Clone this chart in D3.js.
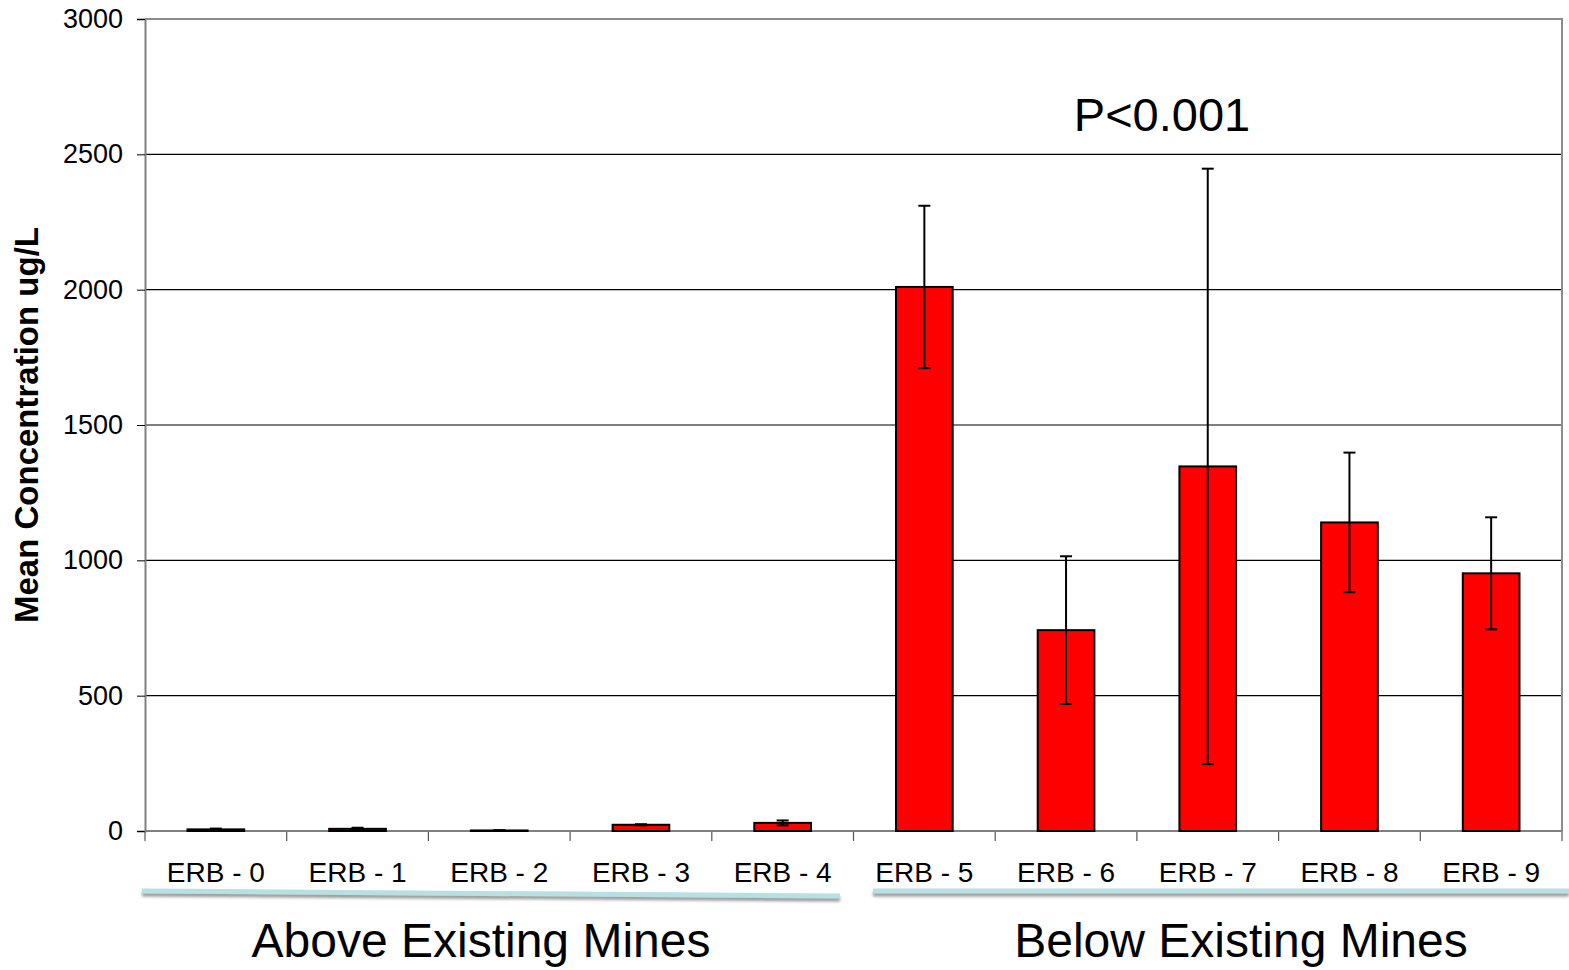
<!DOCTYPE html>
<html>
<head>
<meta charset="utf-8">
<script src="https://cdn.jsdelivr.net/npm/d3@7"></script>
<style>
  html, body { margin: 0; padding: 0; background: #fff; }
  svg { display: block; font-family: "Liberation Sans", Arial, sans-serif; }
</style>
</head>
<body>
<svg id="chart" width="1569" height="970"></svg>
<script>
// Sampling sites along the river
const sites = ["ERB - 0", "ERB - 1", "ERB - 2", "ERB - 3", "ERB - 4",
               "ERB - 5", "ERB - 6", "ERB - 7", "ERB - 8", "ERB - 9"];
// Mean concentration (ug/L) at each site
const meanConc = [6, 8, 2, 23, 30, 2010, 742, 1347, 1140, 952];
// Error bar half-widths (ug/L)
const errConc = [3, 4, 1, 2, 9, 300, 273, 1100, 258, 207];
const yTicks = [0, 500, 1000, 1500, 2000, 2500, 3000];
const groups = [
  { label: "Above Existing Mines", from: 0, to: 4 },
  { label: "Below Existing Mines", from: 5, to: 9 }
];
const pLabel = "P<0.001";

const svg = d3.select("#chart");
const m = { left: 145, right: 1562, top: 19, bottom: 831 };

const x = d3.scaleBand().domain(sites).range([m.left, m.right]).paddingInner(0.6).paddingOuter(0.3);
const xc = d3.scaleBand().domain(sites).range([m.left, m.right]).padding(0);
const y = d3.scaleLinear().domain([0, 3000]).range([m.bottom, m.top]);

// horizontal gridlines
svg.append("g").selectAll("line").data(yTicks.filter(t => t > 0 && t < 3000)).join("line")
  .attr("x1", m.left).attr("x2", m.right)
  .attr("y1", d => y(d)).attr("y2", d => y(d))
  .attr("stroke", "#000").attr("stroke-width", 1.2);

// plot area border (top and right)
svg.append("path")
  .attr("d", `M${m.left},${y(3000)}H${m.right}V${m.bottom}`)
  .attr("fill", "none").attr("stroke", "#8c8c8c").attr("stroke-width", 2);

// y axis
const yAxis = svg.append("g").attr("transform", `translate(${m.left},0)`)
  .call(d3.axisLeft(y).tickValues(yTicks).tickSize(8).tickPadding(14).tickFormat(d3.format("d")));
yAxis.select(".domain").attr("stroke", "#808080").attr("stroke-width", 2);
yAxis.selectAll(".tick line").attr("stroke", "#000");
yAxis.selectAll("text").attr("font-size", 27).attr("fill", "#000")
  .attr("font-family", "Liberation Sans, Arial, sans-serif");

// x axis with ticks at category boundaries
const boundaries = sites.map(s => xc(s)).concat([xc(sites[sites.length - 1]) + xc.bandwidth()]);
svg.append("g").selectAll("line").data(boundaries).join("line")
  .attr("x1", d => d).attr("x2", d => d)
  .attr("y1", m.bottom).attr("y2", m.bottom + 10)
  .attr("stroke", "#555").attr("stroke-width", 1.2);
svg.append("line")
  .attr("x1", m.left).attr("x2", m.right)
  .attr("y1", m.bottom).attr("y2", m.bottom)
  .attr("stroke", "#808080").attr("stroke-width", 2);

svg.append("g").selectAll("text").data(sites).join("text")
  .attr("x", d => xc(d) + xc.bandwidth() / 2)
  .attr("y", 882)
  .attr("text-anchor", "middle")
  .attr("font-size", 28)
  .attr("fill", "#000")
  .text(d => d);

// bars
svg.append("g").selectAll("rect").data(sites).join("rect")
  .attr("x", d => x(d))
  .attr("width", x.bandwidth())
  .attr("y", (d, i) => y(meanConc[i]))
  .attr("height", (d, i) => y(0) - y(meanConc[i]))
  .attr("fill", "#ff0000")
  .attr("stroke", "#000").attr("stroke-width", 2);

// error bars
const eb = svg.append("g").attr("stroke", "#000").attr("stroke-width", 2);
sites.forEach((s, i) => {
  const cx = x(s) + x.bandwidth() / 2;
  const hi = y(meanConc[i] + errConc[i]);
  const lo = y(Math.max(0, meanConc[i] - errConc[i]));
  eb.append("line").attr("x1", cx).attr("x2", cx).attr("y1", hi).attr("y2", lo);
  eb.append("line").attr("x1", cx - 6).attr("x2", cx + 6).attr("y1", hi).attr("y2", hi);
  eb.append("line").attr("x1", cx - 6).attr("x2", cx + 6).attr("y1", lo).attr("y2", lo);
});

// y axis title
svg.append("text")
  .attr("transform", `translate(38,425) rotate(-90)`)
  .attr("text-anchor", "middle")
  .attr("font-size", 33)
  .attr("font-weight", "bold")
  .attr("fill", "#000")
  .text("Mean Concentration ug/L");

// significance label
svg.append("text")
  .attr("x", 1162).attr("y", 131)
  .attr("text-anchor", "middle")
  .attr("font-size", 47)
  .attr("fill", "#000")
  .text(pLabel);

// group underlines and labels
const defs = svg.append("defs");
defs.append("filter").attr("id", "shadow")
  .attr("filterUnits", "userSpaceOnUse")
  .attr("x", 0).attr("y", 860).attr("width", 1569).attr("height", 60)
  .append("feDropShadow").attr("dx", 0).attr("dy", 3).attr("stdDeviation", 1.5)
  .attr("flood-color", "#808080").attr("flood-opacity", 0.8);

const underline = [
  { x1: 142, y1: 891, x2: 840, y2: 896 },
  { x1: 873, y1: 891, x2: 1569, y2: 891 }
];
const labelX = [481, 1241];
groups.forEach((g, k) => {
  const u = underline[k];
  svg.append("line")
    .attr("x1", u.x1).attr("x2", u.x2).attr("y1", u.y1).attr("y2", u.y2)
    .attr("stroke", "#b8dfe2").attr("stroke-width", 5)
    .attr("filter", "url(#shadow)");
  svg.append("text")
    .attr("x", labelX[k])
    .attr("y", 957)
    .attr("text-anchor", "middle")
    .attr("font-size", 48)
    .attr("fill", "#000")
    .text(g.label);
});
</script>
</body>
</html>
